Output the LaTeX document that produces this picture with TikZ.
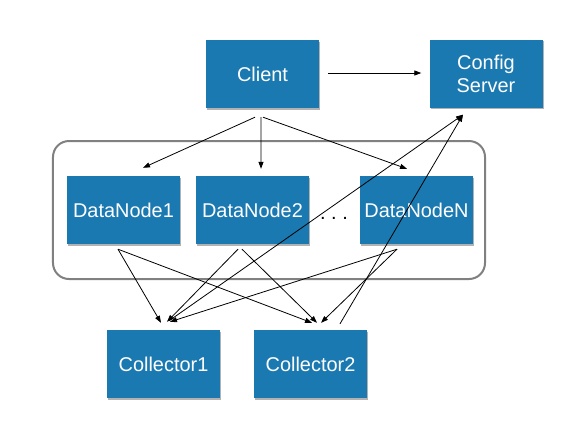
\documentclass[tikz,border=0pt]{standalone}
\usepackage{fontspec}
\setmainfont{Liberation Sans}
\usetikzlibrary{arrows.meta,shadows,calc}
\definecolor{boxblue}{HTML}{1B79B1}
\begin{document}
\begin{tikzpicture}[x=1bp,y=-1bp,
  box/.style={fill=boxblue, text=white, minimum width=113bp, minimum height=68bp,
    inner sep=0pt, font=\fontsize{20}{23}\selectfont, align=center,
    drop shadow={shadow xshift=1bp, shadow yshift=-1.5bp, opacity=0.3, fill=black}},
  frame/.style={draw=gray, line width=2bp, rounded corners=16bp,
    minimum width=432bp, minimum height=138bp, inner sep=0pt},
  conn/.style={-{Triangle[length=7bp,width=5bp]}, line width=0.8bp, black},
]
\useasboundingbox (0,0) rectangle (580,427);
\node[frame] (group) at (269,210) {};
\node[box] (client) at (262.5,74) {Client};
\node[box] (config) at (486,73.5) {Config\\Server};
\node[box] (dn1) at (123.5,210) {DataNode1};
\node[box] (dn2) at (252.5,210) {DataNode2};
\node[box] (dnn) at (416.5,210) {DataNodeN};
\node[font=\fontsize{20}{23}\selectfont, anchor=base] (dots) at (334,219) {.\ .\ .};
\node[box] (c1) at (163.5,364) {Collector1};
\node[box] (c2) at (310.5,364) {Collector2};

\draw[conn] ($(client.east)+(9,-1)$) -- ($(config.west)+(-8,-0.5)$);
\draw[conn] ($(client.south)+(-7.5,9)$) -- ($(dn1.north)+(19.5,-8)$);
\draw[conn] ($(client.south)+(-1.5,9)$) -- ($(dn2.north)+(8.5,-7)$);
\draw[conn] ($(client.south)+(0.5,9)$) -- ($(dnn.north)+(-9.5,-7)$);

\draw[conn] ($(dn1.south)+(-5.5,5)$) -- ($(c1.north)+(-2.5,-7)$);
\draw[conn] ($(dn1.south)+(-5.5,5)$) -- ($(c2.north)+(1.5,-7)$);
\draw[conn] ($(dn2.south)+(-14.5,5)$) -- ($(c1.north)+(3.5,-8)$);
\draw[conn] ($(dn2.south)+(-10.5,5)$) -- ($(c2.north)+(6.5,-7)$);
\draw[conn] ($(dnn.south)+(-19.5,5)$) -- ($(c1.north)+(6.5,-8)$);
\draw[conn] ($(dnn.south)+(-19.5,5)$) -- ($(c2.north)+(10.5,-7)$);

\draw[conn] ($(c1.north)+(5.5,-9)$) -- ($(config.south)+(-23,7)$);
\draw[conn] ($(c2.north)+(29.5,-6)$) -- ($(config.south)+(-23,7)$);
\end{tikzpicture}
\end{document}
